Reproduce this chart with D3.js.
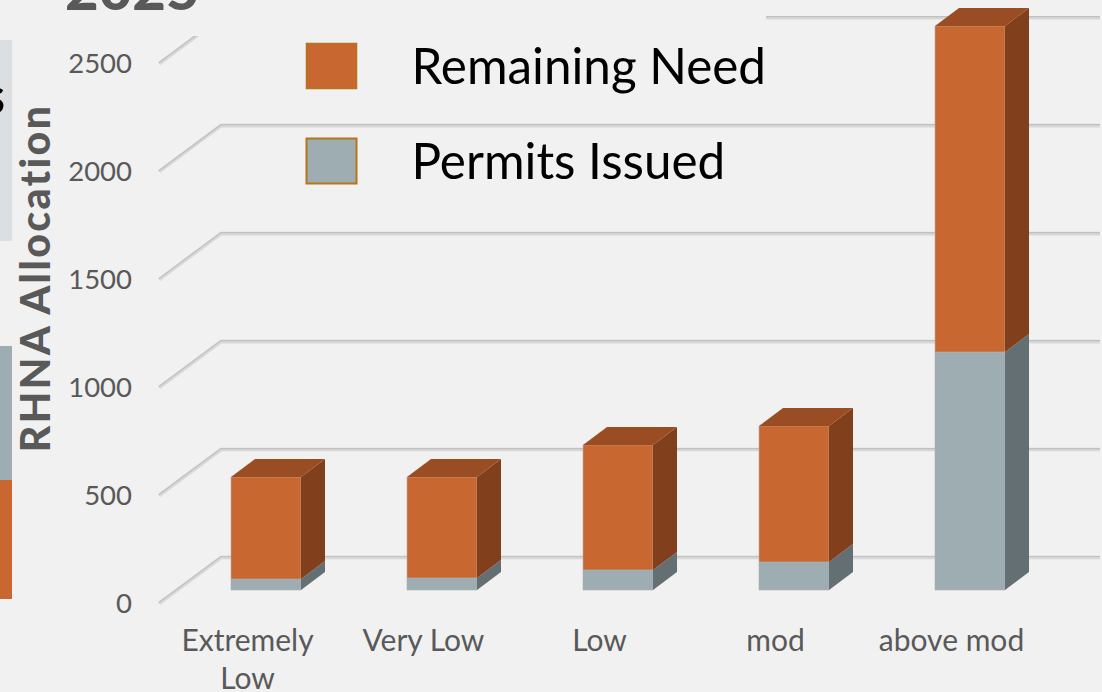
<!DOCTYPE html>
<html>
<head>
<meta charset="utf-8">
<script src="https://cdn.jsdelivr.net/npm/d3@7"></script>
<style>
  html, body { margin: 0; padding: 0; background: #f1f1f1; overflow: hidden; }
  text { font-family: Lato, "Open Sans", sans-serif; }
</style>
</head>
<body>
<div id="chart"></div>
<script>
// values
const categories = ["Extremely Low", "Very Low", "Low", "mod", "above mod"];
const permitsIssued = [51, 56, 93, 130, 1104];
const remainingNeed = [473, 468, 580, 631, 1512];
const yTicks = [0, 500, 1000, 1500, 2000, 2500];
const legendLabels = ["Remaining Need", "Permits Issued"];

const colors = {
  bg: "#f1f1f1",
  text: "#595959",
  need: "#c8672f", needTop: "#9a4d22", needSide: "#813f1c",
  permit: "#9dadb2", permitSide: "#646f74",
  swatchEdge: "#b5761a"
};

const width = 1102, height = 692;
const depthX = 24, depthY = 18;   // bar depth
const wallX = 62, wallY = 46;     // floor depth
const barW = 70;

const svg = d3.select("#chart").append("svg")
  .attr("width", width)
  .attr("height", height)
  .style("display", "block")
  .style("background", colors.bg);

// scales
const yFront = d3.scaleLinear().domain([0, 2500]).range([603.5, 63.7]);
const yBar = d3.scaleLinear().domain([0, 2500]).range([590, 51]);
const x = d3.scaleBand().domain(categories).range([178, 1058]);

// grid: back wall lines plus the slanted part on the left side
const gridPath = v => {
  const y0 = yFront(v);
  return `M${159},${y0}L${159 + wallX},${y0 - wallY}L${1100},${y0 - wallY}`;
};
const grid = svg.append("g").attr("fill", "none");
grid.selectAll(".under").data(yTicks).enter().append("path")
  .attr("d", gridPath).attr("stroke", "#d8d8d8").attr("stroke-width", 3.6);
grid.selectAll(".over").data(yTicks).enter().append("path")
  .attr("d", gridPath).attr("transform", "translate(0,-1)")
  .attr("stroke", "#c0c0c0").attr("stroke-width", 1.2);

// legend sits on a plain box which hides the top line
svg.append("rect")
  .attr("x", 185).attr("y", 0).attr("width", 581).attr("height", 36)
  .attr("fill", colors.bg);

// bars
const series = d3.stack().keys(["permit", "need"])(
  categories.map((c, i) => ({ cat: c, permit: permitsIssued[i], need: remainingNeed[i] }))
);
const barsG = svg.append("g");

function drawFace(pts, fill) {
  barsG.append("path")
    .attr("d", d3.line()(pts) + "Z")
    .attr("fill", fill)
    .attr("stroke", fill === colors.permit || fill === colors.need ? "#b3b3b3" : "none")
    .attr("stroke-opacity", 0.6)
    .attr("stroke-width", 1);
}

categories.forEach((c, i) => {
  const left = x(c) + x.bandwidth() / 2 - barW / 2;
  const right = left + barW;
  series.forEach(s => {
    const top = yBar(s[i][1]), bottom = yBar(s[i][0]);
    const isNeed = s.key === "need";
    drawFace([[left, bottom], [right, bottom], [right, top], [left, top]],
      isNeed ? colors.need : colors.permit);
    drawFace([[right, bottom], [right + depthX, bottom - depthY], [right + depthX, top - depthY], [right, top]],
      isNeed ? colors.needSide : colors.permitSide);
    if (isNeed) {
      drawFace([[left, top], [right, top], [right + depthX, top - depthY], [left + depthX, top - depthY]],
        colors.needTop);
    }
  });
});

// y axis
const yAxis = svg.append("g")
  .attr("transform", "translate(132,0)")
  .call(d3.axisLeft(yFront).tickValues(yTicks).tickSize(0).tickPadding(0).tickFormat(d3.format("d")));
yAxis.select(".domain").remove();
yAxis.selectAll("text")
  .style("font-family", "Lato").style("font-size", "27.5px").attr("fill", colors.text);

// x axis, labels are shifted left of the bars
const xAxis = svg.append("g")
  .attr("transform", "translate(-18.5,630)")
  .call(d3.axisBottom(x).tickSize(0).tickPadding(0));
xAxis.select(".domain").remove();
xAxis.selectAll("text")
  .style("font-family", "Lato").style("font-size", "30px").attr("fill", colors.text)
  .each(function(d) {
    if (d !== "Extremely Low") return;
    const t = d3.select(this).text(null);
    t.append("tspan").attr("x", 0).attr("dy", "0.71em").text("Extremely");
    t.append("tspan").attr("x", 0).attr("dy", "1.25em").text("Low");
  });

// y title
svg.append("text")
  .attr("transform", "translate(50,278) rotate(-90)")
  .attr("text-anchor", "middle")
  .attr("font-size", 41).attr("font-weight", 900)
  .attr("letter-spacing", 2.4)
  .attr("fill", colors.text)
  .text("RHNA Allocation");

// legend
const legendColors = [colors.need, colors.permit];
const legendY = d3.scalePoint().domain(legendLabels).range([43, 138]);
legendLabels.forEach((l, i) => {
  svg.append("rect")
    .attr("x", 306.5).attr("y", legendY(l) + 0.5).attr("width", 50).attr("height", 45)
    .attr("fill", legendColors[i])
    .attr("stroke", colors.swatchEdge).attr("stroke-width", i === 0 ? 1.5 : 2);
  svg.append("text")
    .attr("x", 411.5).attr("y", legendY(l) + 41)
    .attr("font-size", 49.4).attr("fill", "#000")
    .text(l);
});

// cropped title and the neighbouring slide pieces on the left edge
svg.append("text")
  .attr("x", 65).attr("y", 10)
  .attr("font-size", 58).attr("font-weight", 900).attr("fill", colors.text)
  .text("2025");

svg.append("rect").attr("x", 0).attr("y", 40).attr("width", 12).attr("height", 201).attr("fill", "#dcdfe2");
svg.append("rect").attr("x", 0).attr("y", 346).attr("width", 12).attr("height", 134).attr("fill", colors.permit);
svg.append("rect").attr("x", 0).attr("y", 480).attr("width", 12).attr("height", 119).attr("fill", colors.need);
svg.append("text")
  .attr("x", 5).attr("y", 114).attr("text-anchor", "end")
  .attr("font-size", 52).attr("font-weight", 700).attr("fill", "#000")
  .text("s");
</script>
</body>
</html>
